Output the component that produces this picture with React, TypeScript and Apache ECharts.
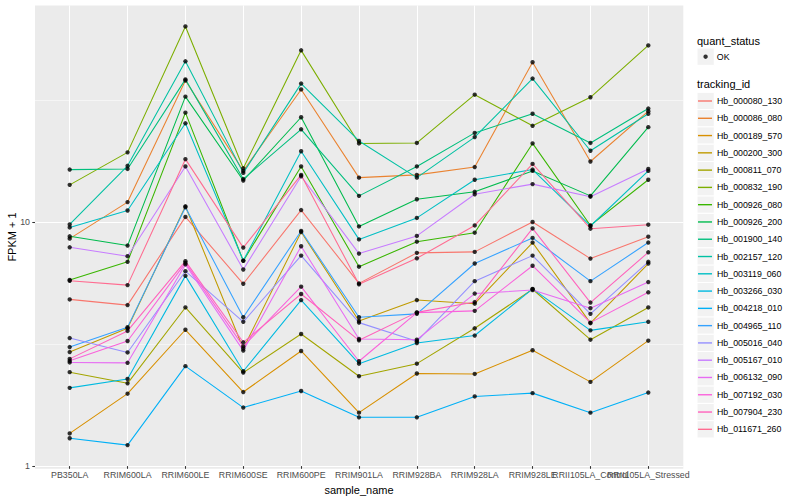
import React, { useEffect, useRef } from "react";
import * as echarts from "echarts";

const categories = [
  "PB350LA", "RRIM600LA", "RRIM600LE", "RRIM600SE", "RRIM600PE", "RRIM901LA",
  "RRIM928BA", "RRIM928LA", "RRIM928LE", "RRII105LA_Control", "RRII105LA_Stressed",
];

const trackingIds = [
  "Hb_000080_130", "Hb_000086_080", "Hb_000189_570", "Hb_000200_300", "Hb_000811_070",
  "Hb_000832_190", "Hb_000926_080", "Hb_000926_200", "Hb_001900_140", "Hb_002157_120",
  "Hb_003119_060", "Hb_003266_030", "Hb_004218_010", "Hb_004965_110", "Hb_005016_040",
  "Hb_005167_010", "Hb_006132_090", "Hb_007192_030", "Hb_007904_230", "Hb_011671_260",
];

const colors = [
  "#F8766D", "#EA8331", "#D89000", "#C09B00", "#A3A500",
  "#7CAE00", "#39B600", "#00BB4E", "#00BF7D", "#00C1A3",
  "#00BFC4", "#00BAE0", "#00B0F6", "#35A2FF", "#9590FF",
  "#C77CFF", "#E76BF3", "#FA62DB", "#FF62BC", "#FF6C91",
];

// FPKM + 1 per sample (same order as categories)
const Hb_000080_130 = [4.75, 4.5, 10.4, 5.51, 11.1, 5.53, 7.39, 7.46, 9.91, 7.0, 8.62];
const Hb_000086_080 = [8.46, 11.97, 38.0, 16.1, 34.9, 15.1, 15.5, 16.7, 45.2, 17.6, 28.4];
const Hb_000189_570 = [1.33, 1.94, 3.56, 1.97, 2.91, 1.62, 2.35, 2.34, 2.93, 2.17, 3.21];
const Hb_000200_300 = [2.88, 3.61, 11.5, 2.98, 9.01, 3.87, 4.72, 4.56, 8.15, 3.79, 6.68];
const Hb_000811_070 = [2.38, 2.14, 4.4, 2.37, 3.42, 2.29, 2.58, 3.61, 5.23, 3.24, 4.4];
const Hb_000832_190 = [14.1, 19.2, 63.5, 16.5, 50.6, 20.9, 21.0, 33.2, 24.7, 32.4, 53.0];
const Hb_000926_080 = [5.71, 6.79, 28.0, 6.85, 16.8, 6.48, 8.22, 8.95, 20.9, 9.59, 14.8];
const Hb_000926_200 = [8.65, 7.92, 32.6, 14.7, 26.8, 9.5, 12.3, 13.2, 16.1, 12.7, 24.4];
const Hb_001900_140 = [16.3, 16.4, 38.4, 14.9, 23.9, 12.7, 16.8, 23.1, 27.7, 21.0, 29.1];
const Hb_002157_120 = [9.68, 16.9, 45.6, 15.8, 36.9, 21.4, 15.1, 22.2, 38.7, 19.5, 27.7];
const Hb_003119_060 = [9.41, 11.05, 25.3, 6.87, 19.4, 8.4, 10.3, 14.8, 16.3, 9.54, 16.1];
const Hb_003266_030 = [2.05, 2.23, 5.94, 2.4, 4.72, 2.58, 3.14, 3.37, 5.25, 3.54, 3.84];
const Hb_004218_010 = [1.27, 1.19, 2.52, 1.7, 1.99, 1.55, 1.55, 1.89, 1.95, 1.62, 1.96];
const Hb_004965_110 = [3.02, 3.65, 11.4, 4.01, 9.1, 4.01, 4.14, 6.68, 8.52, 5.65, 8.15];
const Hb_005016_040 = [3.29, 2.87, 6.21, 3.84, 7.2, 3.81, 3.19, 5.65, 7.2, 4.14, 6.79];
const Hb_005167_010 = [7.79, 7.16, 16.8, 6.31, 15.3, 7.34, 8.68, 12.9, 14.2, 12.6, 16.4];
const Hb_006132_090 = [2.61, 2.6, 6.62, 2.92, 7.87, 3.26, 3.24, 5.02, 5.19, 4.37, 5.6];
const Hb_007192_030 = [2.65, 3.2, 6.72, 3.04, 5.36, 2.64, 4.19, 4.26, 6.54, 3.81, 5.08];
const Hb_007904_230 = [2.7, 3.52, 6.83, 3.16, 5.0, 3.22, 4.2, 4.63, 9.32, 4.61, 7.43];
const Hb_011671_260 = [5.67, 5.44, 18.0, 7.77, 15.5, 5.48, 7.02, 9.59, 17.2, 9.3, 9.66];

const seriesValues = [
  Hb_000080_130, Hb_000086_080, Hb_000189_570, Hb_000200_300, Hb_000811_070,
  Hb_000832_190, Hb_000926_080, Hb_000926_200, Hb_001900_140, Hb_002157_120,
  Hb_003119_060, Hb_003266_030, Hb_004218_010, Hb_004965_110, Hb_005016_040,
  Hb_005167_010, Hb_006132_090, Hb_007192_030, Hb_007904_230, Hb_011671_260,
];

const yMajorTicks = [1, 10];
const yMinorTicks = [3.1623, 31.623];
const yTickLabels = ["1", "10"];
const yMin = 0.975;
const yMax = 77.4;

const FONT = "'Liberation Sans', Arial, Helvetica, sans-serif";

export default function App() {
  const ref = useRef<HTMLDivElement>(null);

  useEffect(() => {
    document.body.style.margin = "0";
    const chart = echarts.init(ref.current as HTMLDivElement, null, { renderer: "svg" });

    const keyTop = 92.36;
    const keyH = 17.28;

    const graphic: any[] = [
      {
        type: "text",
        x: 697,
        y: 40.7,
        z: 1,
        style: { text: "quant_status", fontSize: 11, fontFamily: FONT, fill: "#000000", textAlign: "left", textVerticalAlign: "middle", align: "left", verticalAlign: "middle" },
      },
      {
        type: "text",
        x: 697,
        y: 84.3,
        z: 1,
        style: { text: "tracking_id", fontSize: 11, fontFamily: FONT, fill: "#000000", textAlign: "left", textVerticalAlign: "middle", align: "left", verticalAlign: "middle" },
      },
      {
        type: "text",
        x: 12,
        y: 237,
        rotation: Math.PI / 2,
        z: 1,
        style: { text: "FPKM + 1", fontSize: 11, fontFamily: FONT, fill: "#000000", textAlign: "center", textVerticalAlign: "middle", align: "center", verticalAlign: "middle" },
      },
      {
        type: "rect",
        z: 0,
        shape: { x: 697, y: 48.06, width: keyH, height: keyH },
        style: { fill: "#F2F2F2", stroke: "#FFFFFF", lineWidth: 1 },
      },
    ];
    trackingIds.forEach((_, i) => {
      graphic.push({
        type: "rect",
        z: 0,
        shape: { x: 697, y: keyTop + keyH * i, width: keyH, height: keyH },
        style: { fill: "#F2F2F2", stroke: "#FFFFFF", lineWidth: 1 },
      });
    });

    const lineSeries = trackingIds.map((name, i) => ({
      name,
      type: "line",
      xAxisIndex: 1,
      yAxisIndex: 2,
      data: seriesValues[i],
      symbol: "none",
      showSymbol: false,
      silent: true,
      z: 2,
      lineStyle: { color: colors[i], width: 1.07 },
      itemStyle: { color: colors[i] },
    }));

    const pointData: any[] = [];
    seriesValues.forEach((vals) => {
      vals.forEach((v, j) => pointData.push([j, v]));
    });

    const option: any = {
      animation: false,
      backgroundColor: "#FFFFFF",
      textStyle: { fontFamily: FONT },
      graphic,
      legend: [
        {
          orient: "vertical",
          left: 698,
          top: keyTop,
          padding: 0,
          itemGap: 0,
          itemWidth: 14,
          itemHeight: 1.4,
          icon: "rect",
          selectedMode: false,
          z: 5,
          data: trackingIds,
          textStyle: { fontSize: 8.8, color: "#000000", lineHeight: keyH, fontFamily: FONT },
        },
        {
          orient: "vertical",
          left: 703.4,
          top: 48.06,
          padding: 0,
          itemGap: 0,
          itemWidth: 4.4,
          itemHeight: 4.4,
          selectedMode: false,
          z: 5,
          data: [{ name: "OK", icon: "circle" }],
          textStyle: { fontSize: 8.8, color: "#000000", lineHeight: keyH, padding: [0, 0, 0, 4], fontFamily: FONT },
        },
      ],
      grid: [
        { left: 35, top: 5.6, width: 648.3, height: 463.1, show: true, backgroundColor: "#EBEBEB", borderWidth: 0 },
        { left: 69.7, top: 5.6, width: 578.6, height: 463.1, show: false },
      ],
      xAxis: [
        { gridIndex: 0, type: "value", min: 0, max: 1, show: false },
        {
          gridIndex: 1,
          type: "category",
          data: categories,
          boundaryGap: false,
          axisLine: { show: false },
          axisTick: { show: true, length: 2.7, interval: 0, lineStyle: { color: "#333333", width: 1.07 } },
          axisLabel: { interval: 0, fontSize: 8.8, color: "#4D4D4D", margin: 4, fontFamily: FONT, hideOverlap: false },
          splitLine: { show: true, interval: 0, lineStyle: { color: "#FFFFFF", width: 1.07 } },
          name: "sample_name",
          nameLocation: "middle",
          nameGap: 12.5,
          nameTextStyle: { fontSize: 11, color: "#000000", fontFamily: FONT },
        },
      ],
      yAxis: [
        {
          gridIndex: 0,
          type: "log",
          logBase: 10,
          position: "left",
          min: yMin,
          max: yMax,
          axisLine: { show: false },
          axisTick: { show: true, length: 2.7, customValues: yMajorTicks, lineStyle: { color: "#333333", width: 1.07 } },
          axisLabel: {
            customValues: yMajorTicks,
            fontSize: 8.8,
            color: "#4D4D4D",
            margin: 5,
            fontFamily: FONT,
            showMinLabel: true,
            showMaxLabel: true,
            formatter: (v: number) => {
              const idx = yMajorTicks.findIndex((t) => Math.abs(t - v) < 1e-6 * t);
              return idx >= 0 ? yTickLabels[idx] : "";
            },
          },
          splitLine: { show: true, lineStyle: { color: "#FFFFFF", width: 1.07 } },
        },
        {
          gridIndex: 0,
          type: "log",
          logBase: 10,
          position: "left",
          min: yMin,
          max: yMax,
          axisLine: { show: false },
          axisTick: { show: false, customValues: yMinorTicks },
          axisLabel: { show: false, customValues: yMinorTicks },
          splitLine: { show: true, lineStyle: { color: "#FFFFFF", width: 0.53 } },
        },
        { gridIndex: 1, type: "log", logBase: 10, min: yMin, max: yMax, show: false },
      ],
      series: [
        ...lineSeries,
        {
          name: "OK",
          type: "scatter",
          xAxisIndex: 1,
          yAxisIndex: 2,
          data: pointData,
          symbol: "circle",
          symbolSize: 4.4,
          silent: true,
          z: 3,
          itemStyle: { color: "#000000" },
        },
      ],
    };

    chart.setOption(option);
    return () => chart.dispose();
  }, []);

  return (
    <div
      ref={ref}
      style={{ position: "absolute", left: 0, top: 0, width: 800, height: 500, background: "#FFFFFF" }}
    />
  );
}
